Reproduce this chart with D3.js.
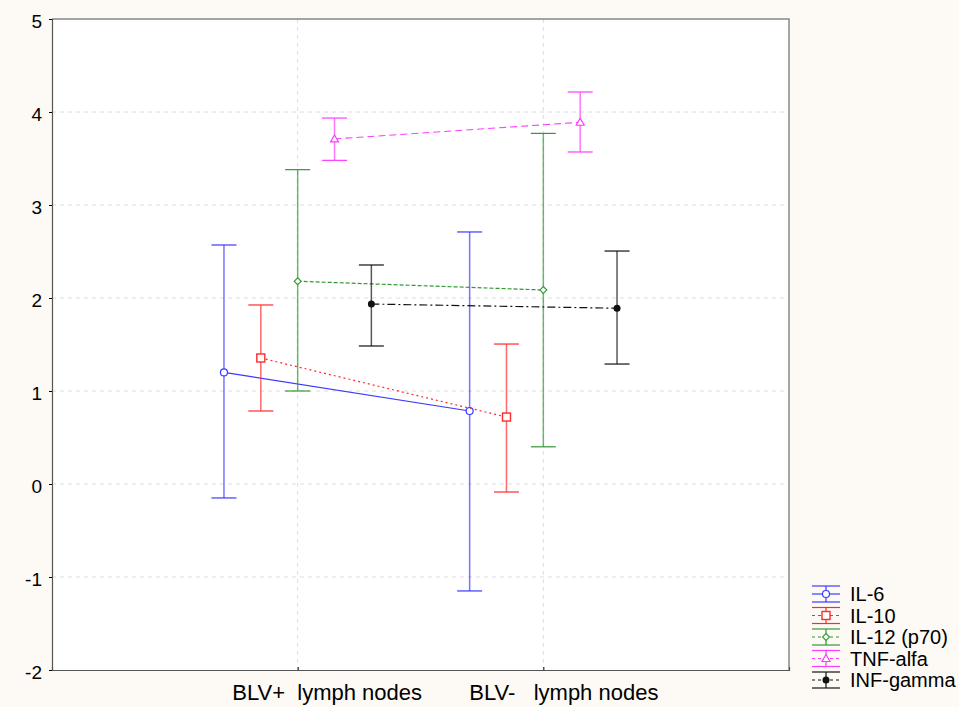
<!DOCTYPE html>
<html>
<head>
<meta charset="utf-8">
<script src="https://cdn.jsdelivr.net/npm/d3@7"></script>
<style>
  body { margin: 0; background: #fdfaf5; }
  svg { display: block; font-family: "Liberation Sans", Arial, sans-serif; }
</style>
</head>
<body>
<svg id="chart" width="959" height="707"></svg>
<script>
// groups on the x axis
const groups = ["BLV+  lymph nodes", "BLV-   lymph nodes"];
const series = ["IL-6", "IL-10", "IL-12 (p70)", "TNF-alfa", "INF-gamma"];
// mean and interval per series, [BLV+, BLV-]
const means = [[1.20, 0.785], [1.355, 0.72], [2.18, 2.086], [3.71, 3.89], [1.935, 1.89]];
const upper = [[2.57, 2.71], [1.925, 1.505], [3.38, 3.77], [3.935, 4.215], [2.355, 2.505]];
const lower = [[-0.15, -1.15], [0.785, -0.086], [1.0, 0.40], [3.48, 3.57], [1.484, 1.29]];
const yTicks = [-2, -1, 0, 1, 2, 3, 4, 5];

const colors = ["#3a3aff", "#ff2a2a", "#339933", "#ff3cff", "#111111"];
const dashes = [null, "2,3", "4,2", "7,4", "8,3,2,3"];
const offsets = [-0.3, -0.15, 0, 0.15, 0.3];
const labelShift = [29, 20];

const svg = d3.select("#chart");
const pL = 52, pT = 19, pR = 789, pB = 670;

const x = d3.scaleLinear().domain([0, 3]).range([pL, pR]);
const y = d3.scaleLinear().domain([-2, 5]).range([pB, pT]);

// plot background
svg.append("rect")
    .attr("x", pL).attr("y", pT)
    .attr("width", pR - pL).attr("height", pB - pT)
    .attr("fill", "#fff");

// grid lines
svg.append("g")
    .selectAll("line")
    .data(yTicks.filter(d => d > -2 && d < 5))
    .enter().append("line")
    .attr("x1", pL).attr("x2", pR)
    .attr("y1", d => y(d)).attr("y2", d => y(d))
    .attr("stroke", "#dcdcdc").attr("stroke-dasharray", "4,4");
svg.append("g")
    .selectAll("line")
    .data([1, 2])
    .enter().append("line")
    .attr("x1", d => x(d)).attr("x2", d => x(d))
    .attr("y1", pT).attr("y2", pB)
    .attr("stroke", "#dcdcdc").attr("stroke-dasharray", "4,4");

// frame
svg.append("path")
    .attr("d", `M${pL},${pT}H${pR}V${pB}`)
    .attr("fill", "none").attr("stroke", "#888").attr("stroke-width", 1.5);

// y axis
const yAxis = svg.append("g")
    .attr("transform", `translate(${pL},0)`)
    .call(d3.axisLeft(y).tickValues(yTicks).tickSize(3).tickFormat(d => String(d)));
yAxis.select(".domain").attr("stroke", "#555").attr("stroke-width", 1.2);
yAxis.selectAll("text")
    .attr("font-size", 19).attr("fill", "#000")
    .attr("font-family", "Liberation Sans, Arial, sans-serif")
    .attr("x", -10).attr("dy", "0.45em");

// x axis
const xAxis = svg.append("g")
    .attr("transform", `translate(0,${pB})`)
    .call(d3.axisBottom(x).tickValues([1, 2]).tickSize(-3).tickFormat(d => groups[d - 1]));
xAxis.select(".domain").attr("stroke", "#555").attr("stroke-width", 1.2);
xAxis.selectAll("text")
    .attr("font-size", 22).attr("fill", "#000")
    .attr("font-family", "Liberation Sans, Arial, sans-serif")
    .attr("y", 30).attr("dy", 0)
    .attr("dx", d => labelShift[d - 1])
    .style("white-space", "pre");

const cap = 12.5;

function marker(g, i, cx, cy) {
    const c = colors[i];
    if (i === 0) {
        g.append("circle").attr("cx", cx).attr("cy", cy).attr("r", 3.5)
            .attr("fill", "#fff").attr("stroke", c).attr("stroke-width", 1.2);
    } else if (i === 1) {
        g.append("rect").attr("x", cx - 4).attr("y", cy - 4).attr("width", 8).attr("height", 8)
            .attr("fill", "#fff").attr("stroke", c).attr("stroke-width", 1.4);
    } else if (i === 2) {
        g.append("path").attr("d", `M${cx},${cy - 3.5}L${cx + 3.5},${cy}L${cx},${cy + 3.5}L${cx - 3.5},${cy}Z`)
            .attr("fill", "#fff").attr("stroke", c).attr("stroke-width", 1.1);
    } else if (i === 3) {
        g.append("path").attr("d", `M${cx},${cy - 4}L${cx + 4},${cy + 3}L${cx - 4},${cy + 3}Z`)
            .attr("fill", "#fff").attr("stroke", c).attr("stroke-width", 1.2);
    } else {
        g.append("circle").attr("cx", cx).attr("cy", cy).attr("r", 3.5).attr("fill", c);
    }
}

series.forEach((s, i) => {
    const g = svg.append("g");
    const px = [1, 2].map(k => x(k + offsets[i]));
    // error bars
    [0, 1].forEach(k => {
        g.append("line")
            .attr("x1", px[k]).attr("x2", px[k])
            .attr("y1", y(upper[i][k])).attr("y2", y(lower[i][k]))
            .attr("stroke", colors[i]).attr("stroke-opacity", 0.7).attr("stroke-width", 1.5);
        [upper[i][k], lower[i][k]].forEach(v => {
            g.append("line")
                .attr("x1", px[k] - cap).attr("x2", px[k] + cap)
                .attr("y1", y(v)).attr("y2", y(v))
                .attr("stroke", colors[i]).attr("stroke-width", 1.2);
        });
    });
    // mean line
    g.append("line")
        .attr("x1", px[0]).attr("x2", px[1])
        .attr("y1", y(means[i][0])).attr("y2", y(means[i][1]))
        .attr("stroke", colors[i]).attr("stroke-width", 1.2)
        .attr("stroke-dasharray", dashes[i]);
    [0, 1].forEach(k => marker(g, i, px[k], y(means[i][k])));
});

// legend
const legend = svg.append("g");
series.forEach((s, i) => {
    const cy = 594 + i * 21.5;
    const lx0 = 812, lx1 = 840, mx = 826;
    const g = legend.append("g");
    g.append("line").attr("x1", lx0).attr("x2", lx1).attr("y1", cy - 8).attr("y2", cy - 8)
        .attr("stroke", colors[i]).attr("stroke-width", 1.2);
    g.append("line").attr("x1", lx0).attr("x2", lx1).attr("y1", cy + 8).attr("y2", cy + 8)
        .attr("stroke", colors[i]).attr("stroke-width", 1.2);
    g.append("line").attr("x1", mx).attr("x2", mx).attr("y1", cy - 8).attr("y2", cy + 8)
        .attr("stroke", colors[i]).attr("stroke-width", 1.2);
    g.append("line").attr("x1", lx0).attr("x2", lx1).attr("y1", cy).attr("y2", cy)
        .attr("stroke", colors[i]).attr("stroke-width", 1.2)
        .attr("stroke-dasharray", i === 0 ? null : "3,3");
    marker(g, i, mx, cy);
    g.append("text").attr("x", 850).attr("y", cy).attr("dy", "0.36em")
        .attr("font-size", 20).attr("fill", "#000").text(s);
});
</script>
</body>
</html>
